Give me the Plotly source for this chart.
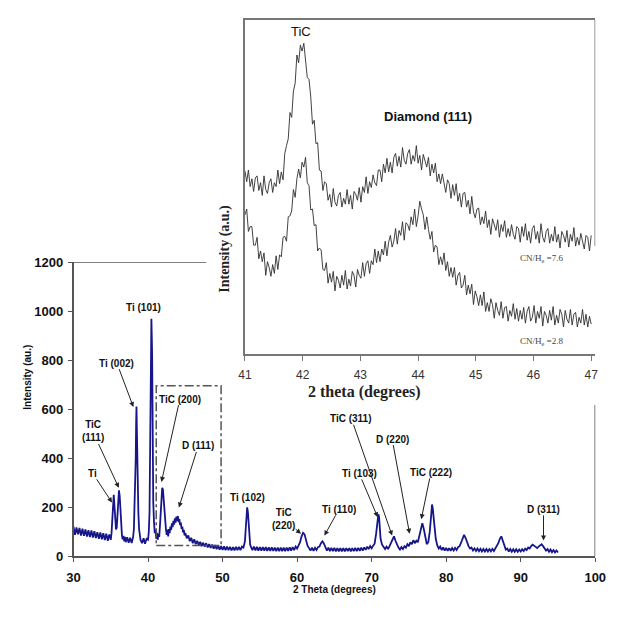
import plotly.graph_objects as go

# ---------------- main XRD scan (2 theta vs intensity) ----------------
theta_main = [
    30.0, 30.2, 30.4, 30.6, 30.8, 31.0, 31.2, 31.4, 31.6, 31.8, 32.0, 32.2, 32.4, 32.6, 32.8, 33.0,
    33.2, 33.4, 33.6, 33.8, 34.0, 34.2, 34.4, 34.6, 34.8, 35.0,
    35.1, 35.2, 35.3, 35.4, 35.5, 35.6, 35.7, 35.8, 35.9, 36.0, 36.1, 36.2, 36.3, 36.4, 36.5, 36.6,
    36.7, 36.8, 36.9, 37.0,
    37.2, 37.4, 37.6, 37.8, 38.0,
    38.1, 38.2, 38.3, 38.35, 38.4, 38.45, 38.5, 38.55, 38.6, 38.7, 38.8, 38.9, 39.0,
    39.2, 39.4, 39.6, 39.8, 40.0,
    40.1, 40.2, 40.3, 40.35, 40.4, 40.45, 40.5, 40.55, 40.6, 40.65, 40.7, 40.8, 40.9, 41.0, 41.1,
    41.2, 41.3, 41.4, 41.5, 41.6, 41.7, 41.8, 41.9, 42.0, 42.1, 42.2, 42.3, 42.4, 42.5, 42.6, 42.7,
    42.8, 42.9, 43.0, 43.1, 43.2, 43.3, 43.4, 43.5, 43.6, 43.7, 43.8, 43.9, 44.0, 44.1, 44.2, 44.3,
    44.4, 44.5, 44.6, 44.7, 44.8, 44.9, 45.0,
    45.2, 45.4, 45.6, 45.8, 46.0, 46.2, 46.4, 46.6, 46.8, 47.0, 47.2, 47.4, 47.6, 47.8, 48.0, 48.2,
    48.4, 48.6, 48.8, 49.0, 49.2, 49.4, 49.6, 49.8, 50.0, 50.2, 50.4, 50.6, 50.8, 51.0, 51.2, 51.4,
    51.6, 51.8, 52.0, 52.2, 52.4, 52.6, 52.8, 53.0,
    53.1, 53.2, 53.3, 53.4, 53.5, 53.6, 53.7, 53.8,
    54.0, 54.2, 54.4, 54.6, 54.8, 55.0, 55.2, 55.4, 55.6, 55.8, 56.0, 56.2, 56.4, 56.6, 56.8, 57.0,
    57.2, 57.4, 57.6, 57.8, 58.0, 58.2, 58.4, 58.6, 58.8, 59.0, 59.2, 59.4, 59.6, 59.8, 60.0, 60.2,
    60.4, 60.6, 60.8, 61.0, 61.2, 61.4, 61.6, 61.8, 62.0, 62.2, 62.4, 62.6, 62.8, 63.0, 63.2, 63.4,
    63.6, 63.8, 64.0, 64.2, 64.4, 64.6, 64.8, 65.0, 65.2, 65.4, 65.6, 65.8, 66.0, 66.2, 66.4, 66.6,
    66.8, 67.0, 67.2, 67.4, 67.6, 67.8, 68.0, 68.2, 68.4, 68.6, 68.8, 69.0, 69.2, 69.4, 69.6, 69.8,
    70.0, 70.2, 70.4, 70.6, 70.8, 70.9, 71.0, 71.1, 71.2, 71.4, 71.6, 71.8, 72.0, 72.2, 72.4, 72.6,
    72.8, 73.0, 73.2, 73.4, 73.6, 73.8, 74.0, 74.2, 74.4, 74.6, 74.8, 75.0, 75.2, 75.4, 75.6, 75.8,
    76.0, 76.2, 76.4, 76.6, 76.8, 77.0, 77.2, 77.4, 77.6, 77.8, 78.0, 78.1, 78.2, 78.4, 78.6, 78.8,
    79.0, 79.2, 79.4, 79.6, 79.8, 80.0, 80.2, 80.4, 80.6, 80.8, 81.0, 81.2, 81.4, 81.6, 81.8, 82.0,
    82.2, 82.4, 82.6, 82.8, 83.0, 83.2, 83.4, 83.6, 83.8, 84.0, 84.2, 84.4, 84.6, 84.8, 85.0, 85.2,
    85.4, 85.6, 85.8, 86.0, 86.2, 86.4, 86.6, 86.8, 87.0, 87.2, 87.4, 87.6, 87.8, 88.0, 88.2, 88.4,
    88.6, 88.8, 89.0, 89.2, 89.4, 89.6, 89.8, 90.0, 90.2, 90.4, 90.6, 90.8, 91.0, 91.2, 91.4, 91.6,
    91.8, 92.0, 92.2, 92.4, 92.6, 92.8, 93.0, 93.2, 93.4, 93.6, 93.8, 94.0, 94.2, 94.4, 94.6, 94.8,
    95.0,
]
intensity_main = [
    122, 88, 118, 90, 116, 85, 113, 84, 110, 81, 107, 79, 106, 77, 103, 75,
    99, 72, 98, 70, 95, 67, 93, 64, 90, 68,
    95, 160, 230, 252, 205, 140, 110, 118, 190, 250, 270, 245, 170, 112, 85, 70,
    84, 62, 80, 58,
    78, 56, 76, 55, 80,
    110, 200, 330, 400, 540, 612, 520, 380, 300, 180, 110, 80, 66,
    54, 74, 52, 72, 68,
    100, 180, 420, 650, 820, 970, 900, 820, 560, 350, 220, 140, 95, 110, 72,
    96, 68, 92, 80, 125, 180, 245, 280, 272, 225, 165, 125, 112, 88, 110, 82,
    112, 95, 122, 108, 135, 120, 145, 130, 155, 138, 162, 145, 165, 140, 152, 128,
    138, 112, 122, 98, 108, 86, 96,
    74, 86, 62, 76, 54, 70, 50, 64, 46, 60, 42, 56, 40, 54, 37, 50,
    35, 48, 32, 46, 30, 44, 28, 42, 27, 41, 26, 40, 26, 39, 25, 38,
    25, 39, 26, 39, 26, 40, 36, 62,
    110, 170, 200, 180, 120, 72, 48, 40,
    26, 40, 25, 39, 24, 38, 24, 38, 24, 38, 23, 37, 23, 37, 23, 36,
    22, 36, 22, 36, 22, 36, 22, 36, 23, 37, 24, 38, 26, 40, 32, 45,
    58, 82, 96, 90, 62, 44, 34, 24, 36, 23, 35, 26, 38, 40, 54, 62,
    52, 38, 24, 36, 22, 35, 22, 35, 21, 34, 21, 34, 21, 34, 21, 34,
    22, 34, 21, 34, 22, 35, 22, 35, 23, 36, 24, 37, 27, 40, 30, 42,
    33, 44, 52, 92, 150, 172, 160, 112, 72, 48, 40, 30, 40, 30, 42, 58,
    74, 82, 64, 45, 36, 28, 38, 30, 42, 36, 50, 42, 58, 50, 66, 54,
    64, 58, 82, 116, 136, 112, 72, 50, 58, 102, 172, 212, 196, 122, 72, 46,
    32, 40, 26, 37, 24, 35, 23, 34, 23, 34, 24, 35, 26, 38, 42, 56,
    74, 88, 76, 56, 42, 32, 36, 24, 33, 22, 32, 21, 31, 20, 30, 20,
    30, 20, 30, 21, 31, 22, 32, 40, 54, 72, 82, 64, 42, 28, 32, 20,
    30, 19, 29, 19, 29, 19, 28, 20, 29, 22, 32, 26, 36, 32, 42, 48,
    44, 38, 34, 40, 46, 50, 42, 32, 24, 30, 19, 28, 17, 26, 16, 24,
    16,
]

# peak labels (main panel): label text, arrow target 2theta, arrow target intensity
peak_labels = ["Ti (002)", "TiC<br>(111)", "Ti", "TiC (200)", "D (111)", "TiC<br>(220)",
               "TiC (311)", "D (220)", "Ti (103)", "TiC (222)", "Ti (110)", "D (311)"]
peak_theta = [38.03, 36.08, 35.17, 41.80, 44.14, 60.53, 72.75, 75.09, 70.81, 76.66, 63.66, 93.06]
peak_height = [610, 280, 220, 304, 200, 93, 85, 93, 160, 152, 85, 65]
plain_labels = ["Ti (101)", "Ti (102)"]

# ---------------- inset: 41-47 degrees, two samples ----------------
inset_theta = [
    41.00, 41.03, 41.06, 41.09, 41.12, 41.15, 41.18, 41.21, 41.24, 41.27, 41.30, 41.33, 41.36, 41.39,
    41.42, 41.45, 41.48, 41.51, 41.54, 41.57, 41.60, 41.63, 41.66, 41.69, 41.72, 41.75, 41.78, 41.81,
    41.84, 41.87, 41.90, 41.93, 41.96, 41.99,
    42.02, 42.05, 42.08, 42.11, 42.14, 42.17, 42.20, 42.23, 42.26, 42.29, 42.32, 42.35, 42.38, 42.41,
    42.44, 42.47, 42.50, 42.53, 42.56, 42.59, 42.62, 42.65, 42.68, 42.71, 42.74, 42.77, 42.80, 42.83,
    42.86, 42.89, 42.92, 42.95, 42.98,
    43.01, 43.04, 43.07, 43.10, 43.13, 43.16, 43.19, 43.22, 43.25, 43.28, 43.31, 43.34, 43.37, 43.40,
    43.43, 43.46, 43.49, 43.52, 43.55, 43.58, 43.61, 43.64, 43.67, 43.70, 43.73, 43.76, 43.79, 43.82,
    43.85, 43.88, 43.91, 43.94, 43.97,
    44.00, 44.03, 44.06, 44.09, 44.12, 44.15, 44.18, 44.21, 44.24, 44.27, 44.30, 44.33, 44.36, 44.39,
    44.42, 44.45, 44.48, 44.51, 44.54, 44.57, 44.60, 44.63, 44.66, 44.69, 44.72, 44.75, 44.78, 44.81,
    44.84, 44.87, 44.90, 44.93, 44.96, 44.99,
    45.02, 45.05, 45.08, 45.11, 45.14, 45.17, 45.20, 45.23, 45.26, 45.29, 45.32, 45.35, 45.38, 45.41,
    45.44, 45.47, 45.50, 45.53, 45.56, 45.59, 45.62, 45.65, 45.68, 45.71, 45.74, 45.77, 45.80, 45.83,
    45.86, 45.89, 45.92, 45.95, 45.98,
    46.01, 46.04, 46.07, 46.10, 46.13, 46.16, 46.19, 46.22, 46.25, 46.28, 46.31, 46.34, 46.37, 46.40,
    46.43, 46.46, 46.49, 46.52, 46.55, 46.58, 46.61, 46.64, 46.67, 46.70, 46.73, 46.76, 46.79, 46.82,
    46.85, 46.88, 46.91, 46.94, 46.97,
    47.00,
]
inset_cn76 = [
    188, 177, 189, 172, 180, 167, 181, 183, 168, 176, 163, 183, 169, 165,
    176, 180, 166, 176, 172, 189, 175, 187, 179, 206, 214, 221, 248, 243,
    270, 278, 307, 299, 317, 311,
    319, 301, 284, 282, 264, 236, 240, 216, 217, 189, 188, 168, 177, 175,
    158, 164, 151, 170, 156, 152, 163, 166, 151, 160, 154, 169, 154, 163,
    149, 167, 164, 158, 171,
    156, 172, 166, 182, 165, 177, 171, 184, 176, 173, 189, 189, 177, 195,
    186, 201, 187, 197, 186, 202, 206, 193, 203, 192, 212, 199, 195, 206,
    210, 195, 204, 198, 214,
    196, 204, 189, 205, 199, 192, 202, 183, 195, 186, 196, 177, 185, 175,
    185, 173, 166, 179, 175, 160, 174, 163, 175, 157, 165, 151, 165, 166,
    151, 158, 144, 162, 146, 140,
    149, 150, 133, 141, 134, 147, 130, 138, 123, 139, 134, 127, 138, 120,
    133, 126, 137, 120, 129, 121, 133, 123, 118, 131, 129, 115, 131, 121,
    134, 117, 126, 114, 129,
    132, 118, 126, 114, 134, 120, 115, 126, 129, 114, 123, 116, 131, 115,
    123, 109, 126, 122, 115, 127, 110, 123, 116, 130, 111, 120, 112, 124,
    114, 108, 122, 120, 106,
    122,
]
inset_cn28 = [
    143, 149, 126, 131, 131, 112, 112, 120, 98, 106, 95, 104, 81, 95,
    89, 80, 92, 83, 101, 87, 102, 100, 120, 121, 116, 141, 142, 147,
    169, 161, 180, 190, 181, 197,
    192, 202, 176, 173, 148, 149, 132, 133, 106, 109, 107, 87, 86, 94,
    73, 83, 74, 85, 65, 80, 76, 68, 81, 71, 86, 67, 77, 70,
    85, 81, 69, 87, 81,
    78, 94, 80, 93, 96, 83, 96, 92, 108, 94, 106, 95, 108, 102,
    116, 101, 115, 122, 110, 116, 129, 113, 127, 122, 136, 117, 135, 133,
    127, 141, 133, 149, 131,
    142, 157, 149, 143, 128, 141, 128, 118, 126, 105, 112, 110, 92, 100,
    92, 104, 86, 95, 80, 89, 79, 89, 71, 81, 84, 68, 71, 81,
    61, 71, 62, 72, 51, 65,
    59, 50, 61, 50, 64, 44, 53, 44, 57, 51, 37, 53, 45, 40,
    54, 37, 48, 49, 34, 45, 39, 52, 36, 47, 34, 45, 36, 48,
    32, 44, 49, 34, 38,
    50, 32, 44, 37, 49, 29, 44, 40, 32, 45, 35, 49, 30, 40,
    32, 46, 41, 28, 45, 36, 32, 46, 30, 41, 43, 28, 38, 32,
    46, 30, 41, 28, 39,
    31,
]

# The page keeps the browser's default 8 px body margin; the figure is sized so the
# whole page is exactly the 622x617 window.
PAGE_W, PAGE_H, BODY = 622, 617, 8
W, H = PAGE_W - 2 * BODY, PAGE_H - 2 * BODY
SANS = "Liberation Sans, Arial, sans-serif"
SERIF = "Liberation Serif, Times New Roman, serif"

def px_x(p):
    return (p - BODY) / W

def px_y(p):
    return 1 - (p - BODY) / H

fig = go.Figure()
fig.add_trace(go.Scatter(x=theta_main, y=intensity_main, mode="lines",
                         line=dict(color="#16168a", width=1.8), xaxis="x", yaxis="y",
                         showlegend=False, hoverinfo="skip"))
fig.add_trace(go.Scatter(x=inset_theta, y=inset_cn76, mode="lines",
                         line=dict(color="#2e2e2e", width=0.9), xaxis="x2", yaxis="y2",
                         showlegend=False, hoverinfo="skip"))
fig.add_trace(go.Scatter(x=inset_theta, y=inset_cn28, mode="lines",
                         line=dict(color="#2e2e2e", width=0.9), xaxis="x2", yaxis="y2",
                         showlegend=False, hoverinfo="skip"))

axis_common = dict(showgrid=False, zeroline=False, showline=True, ticks="outside")

fig.update_layout(
    width=W, height=H, margin=dict(l=0, r=0, t=0, b=0),
    paper_bgcolor="white", plot_bgcolor="rgba(0,0,0,0)",
    xaxis=dict(**axis_common, domain=[px_x(68.3), px_x(606)], range=[30, 100],
               tickvals=[30, 40, 50, 60, 70, 80, 90, 100], ticklen=4, linecolor="#555",
               linewidth=1.5, tickcolor="#555",
               tickfont=dict(family=SANS, size=13, color="#111", weight="bold"),
               ticklabelstandoff=4, anchor="y"),
    yaxis=dict(**axis_common, domain=[px_y(563.3), px_y(261.7)], range=[0, 1200],
               tickvals=[0, 200, 400, 600, 800, 1000, 1200], ticklen=4, linecolor="#555",
               linewidth=1.5, tickcolor="#555",
               tickfont=dict(family=SANS, size=13, color="#111", weight="bold"),
               ticklabelstandoff=2, anchor="x"),
    xaxis2=dict(**axis_common, domain=[px_x(245), px_x(606)], range=[41, 47.07],
                tickvals=[41, 42, 43, 44, 45, 46, 47], ticklen=5, linecolor="#777",
                linewidth=1.5, tickcolor="#777", mirror=True,
                tickfont=dict(family=SANS, size=12, color="#333"),
                ticklabelstandoff=4, anchor="y2"),
    yaxis2=dict(showgrid=False, zeroline=False, showline=True, ticks="",
                showticklabels=False, domain=[px_y(356), px_y(12.7)], range=[0, 343.3],
                linecolor="#777", linewidth=1.5, anchor="x2"),
)

shapes = [
    dict(type="rect", xref="x", yref="y", x0=41.1, x1=49.8, y0=45, y1=697,
         line=dict(color="#555", width=1.5, dash="dashdot")),
    dict(type="line", xref="x", yref="y", x0=30, x1=47.8, y0=1200, y1=1200,
         line=dict(color="#555", width=1.5)),
    dict(type="line", xref="x", yref="y", x0=100, x1=100, y0=0, y1=618,
         line=dict(color="#555", width=1.5)),
    dict(type="line", xref="x2", yref="y2", x0=47.07, x1=47.07, y0=111, y1=343.3,
         line=dict(color="#777", width=1.5)),
]
fig.update_layout(shapes=shapes)

# label text centres (data coords of main panel)
label_pos = [(35.82, 789), (32.58, 510), (32.58, 339), (44.27, 642), (46.74, 451), (58.19, 152),
             (67.29, 562), (72.75, 479), (68.33, 339), (77.96, 343), (65.61, 192), (93.06, 192)]
plain_pos = [(39.33, 1016), (53.38, 240)]

ann = []
lab_font = dict(family=SANS, size=10, color="#111", weight="bold")
for text, tx, ty, (lx, ly) in zip(peak_labels, peak_theta, peak_height, label_pos):
    ann.append(dict(xref="x", yref="y", axref="x", ayref="y", x=tx, y=ty, ax=lx, ay=ly,
                    text=text, showarrow=True, arrowhead=2, arrowsize=1, arrowwidth=1,
                    arrowcolor="#222", font=lab_font, standoff=0, borderpad=0))
for text, (lx, ly) in zip(plain_labels, plain_pos):
    ann.append(dict(xref="x", yref="y", x=lx, y=ly, text=text, showarrow=False, font=lab_font))

# axis titles
ann.append(dict(xref="paper", yref="paper", x=px_x(337), y=px_y(605), text="2 Theta (degrees)",
                showarrow=False, font=dict(family=SANS, size=10, color="#111", weight="bold")))
ann.append(dict(xref="paper", yref="paper", x=px_x(13), y=px_y(415), text="Intensity (au.)",
                textangle=-90, showarrow=False,
                font=dict(family=SANS, size=10, color="#111", weight="bold")))
ann.append(dict(xref="paper", yref="paper", x=px_x(428), y=px_y(395), text="2 theta (degrees)",
                showarrow=False, font=dict(family=SERIF, size=16, color="#222", weight="bold")))
ann.append(dict(xref="paper", yref="paper", x=px_x(225), y=px_y(201), text="Intensity (a.u.)",
                textangle=-90, showarrow=False,
                font=dict(family=SERIF, size=14, color="#222", weight="bold")))

# inset labels
ann.append(dict(xref="x2", yref="y2", x=41.97, y=331, text="TiC", showarrow=False,
                font=dict(family=SANS, size=13, color="#111")))
ann.append(dict(xref="x2", yref="y2", x=44.18, y=244, text="Diamond (111)", showarrow=False,
                font=dict(family=SANS, size=13, color="#111", weight="bold")))
ann.append(dict(xref="x2", yref="y2", x=46.14, y=98, text="CN/H<sub>e</sub> =7.6", showarrow=False,
                font=dict(family=SERIF, size=9, color="#444")))
ann.append(dict(xref="x2", yref="y2", x=46.14, y=13, text="CN/H<sub>e</sub> =2.8", showarrow=False,
                font=dict(family=SERIF, size=9, color="#444")))

fig.update_layout(annotations=ann)
fig.write_html("out.html", config={"displayModeBar": False})
